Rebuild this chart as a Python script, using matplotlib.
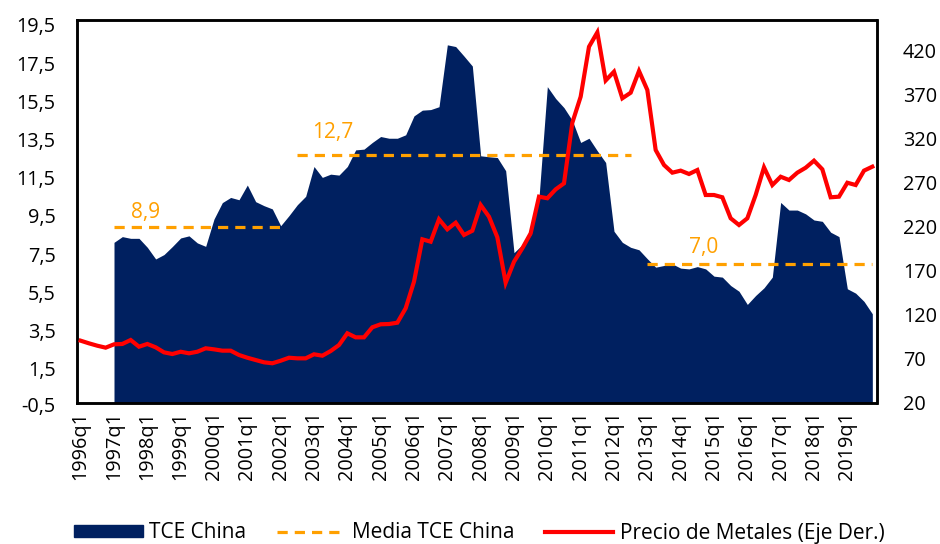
import matplotlib
matplotlib.use("Agg")
import matplotlib.pyplot as plt
from matplotlib.lines import Line2D
from matplotlib.patches import Patch
from matplotlib.ticker import FuncFormatter, FixedLocator
import matplotlib.transforms as mtransforms
import numpy as np

plt.rcParams['font.family'] = ['Open Sans', 'DejaVu Sans']

# ---------------- data ----------------
years = list(range(1996, 2020))
periods = [f"{y}q{q}" for y in years for q in range(1, 5)]
tick_labels = [f"{y}q1" for y in years]

# TCE China (left axis), starts in 1997q1
tce_china = [None, None, None, None,
    8.12, 8.42, 8.33, 8.33, 7.86, 7.25, 7.48, 7.90, 8.35, 8.46,
    8.09, 7.91, 9.34, 10.20, 10.47, 10.35, 11.12, 10.25, 10.04, 9.87,
    8.99, 9.52, 10.09, 10.53, 12.09, 11.52, 11.69, 11.64, 12.09, 12.96,
    13.00, 13.35, 13.66, 13.57, 13.57, 13.75, 14.74, 15.04, 15.07, 15.22,
    18.46, 18.37, 17.87, 17.35, 12.65, 12.60, 12.56, 11.87, 7.58, 8.00,
    8.50, 10.47, 16.27, 15.65, 15.17, 14.50, 13.35, 13.57, 12.91, 12.30,
    8.70, 8.12, 7.86, 7.73, 7.26, 6.82, 6.91, 6.99, 6.77, 6.73,
    6.85, 6.73, 6.35, 6.30, 5.86, 5.56, 4.87, 5.34, 5.74, 6.30,
    10.21, 9.81, 9.81, 9.61, 9.29, 9.22, 8.65, 8.42, 5.69, 5.46,
    5.03, 4.38]

# Precio de Metales (right axis)
precio_metales = [
    90.6, 87.6, 84.9, 82.7, 86.5, 86.9, 91.4, 83.8, 86.9, 83.1,
    77.4, 75.5, 78.1, 76.3, 78.1, 82.0, 80.8, 79.3, 79.3, 74.4,
    71.3, 68.7, 66.1, 65.0, 67.9, 71.3, 70.6, 70.6, 75.2, 73.6,
    78.9, 85.7, 99.0, 94.4, 94.4, 105.8, 109.2, 109.5, 111.0, 127.3,
    157.5, 205.5, 202.8, 228.2, 216.8, 224.3, 210.4, 215.2, 244.4, 231.1,
    207.8, 156.3, 180.1, 195.3, 212.3, 253.8, 252.0, 262.1, 268.9, 337.6,
    367.1, 423.7, 440.0, 385.5, 395.4, 365.3, 371.6, 396.2, 374.7, 306.7,
    289.7, 281.0, 283.3, 279.5, 284.0, 255.7, 255.7, 253.1, 229.3, 221.7,
    229.3, 255.7, 287.0, 267.0, 276.4, 272.7, 281.0, 286.6, 294.6, 284.8,
    253.1, 253.8, 269.6, 267.0, 283.3, 287.8]

# Media TCE China by period (start, end, mean)
media_periodos = [("1997q1", "2002q1", 8.9),
                  ("2002q3", "2012q3", 12.7),
                  ("2013q1", "2019q4", 7.0)]

left_ticks = [-0.5, 1.5, 3.5, 5.5, 7.5, 9.5, 11.5, 13.5, 15.5, 17.5, 19.5]
right_ticks = [20, 70, 120, 170, 220, 270, 320, 370, 420]

# ---------------- styles ----------------
NAVY = "#002060"
ORANGE = "#FFA000"
RED = "#FF0000"
FS = 14.3
FS_LEG = 15

fig = plt.figure(figsize=(9.4, 5.44), dpi=100)
W, H = 940, 544
ax = fig.add_axes([76.5 / W, 1 - 403 / H, 800 / W, 383 / H])
ax2 = ax.twinx()

x = np.arange(len(periods))
tce = np.array([np.nan if v is None else v for v in tce_china], dtype=float)
mask = ~np.isnan(tce)

ax.set_xlim(-0.5, len(periods) - 0.5)
ax.set_ylim(-0.29, 19.76)
ax2.set_ylim(20, 454)

ax.fill_between(x[mask], ax.get_ylim()[0], tce[mask], color=NAVY, lw=0, zorder=1)

# mean lines
label_offsets = {8.9: (3.8, 15), 12.7: (4.2, 22), 7.0: (6.8, 16)}
for start, end, val in media_periodos:
    i0, i1 = periods.index(start), periods.index(end)
    xs = x[i0:i1 + 1]
    ax.plot(xs, np.full(len(xs), val), color=ORANGE, lw=2.3, ls=(0, (3.2, 2.2)), zorder=2)
    dx, dy = label_offsets[val]
    ax.annotate(f"{val:.1f}".replace(".", ","), xy=(i0 + dx, val), xytext=(0, dy * 0.72),
                textcoords="offset points", ha="center", va="center",
                color=ORANGE, fontsize=FS_LEG)

ax2.plot(x, precio_metales, color=RED, lw=3.0, solid_joinstyle="miter", zorder=3)

fmt = FuncFormatter(lambda v, p: f"{v:.1f}".replace(".", ","))
ax.yaxis.set_major_locator(FixedLocator(left_ticks))
ax.yaxis.set_major_formatter(fmt)
ax2.yaxis.set_major_locator(FixedLocator(right_ticks))

ax.set_xticks(x[::4])
ax.set_xticklabels(tick_labels, rotation=90, fontsize=FS)
ax.tick_params(axis="x", length=0, pad=6)
ax.tick_params(axis="y", length=0, pad=15, labelsize=FS)
ax2.tick_params(axis="y", length=0, pad=19, labelsize=FS)

# the -0,5 label lies just below the frame
trans = mtransforms.blended_transform_factory(ax.transAxes, ax.transData)
t = ax.text(0, -0.5, fmt(-0.5, None), ha="right", va="center",
            fontsize=FS, clip_on=False)
t.set_transform(trans + mtransforms.ScaledTranslation(-15 / 72, 0, fig.dpi_scale_trans))

for a in (ax, ax2):
    for s in a.spines.values():
        s.set_color("black")
        s.set_linewidth(1.8)
ax2.set_zorder(ax.get_zorder() + 1)
ax2.patch.set_visible(False)

handles = [Patch(facecolor=NAVY, edgecolor=NAVY),
           Line2D([], [], color=ORANGE, lw=2.3, ls=(0, (3.2, 2.2))),
           Line2D([], [], color=RED, lw=3.0)]
labels = ["TCE China", "Media TCE China", "Precio de Metales (Eje Der.)"]
fig.legend(handles, labels, loc="center", bbox_to_anchor=(479.5 / W, 1 - 533 / H),
           ncol=3, frameon=False, fontsize=FS_LEG, handlelength=3.27, handleheight=0.5,
           handletextpad=0.3, columnspacing=1.5, borderaxespad=0)

fig.savefig("out.png", dpi=100)
